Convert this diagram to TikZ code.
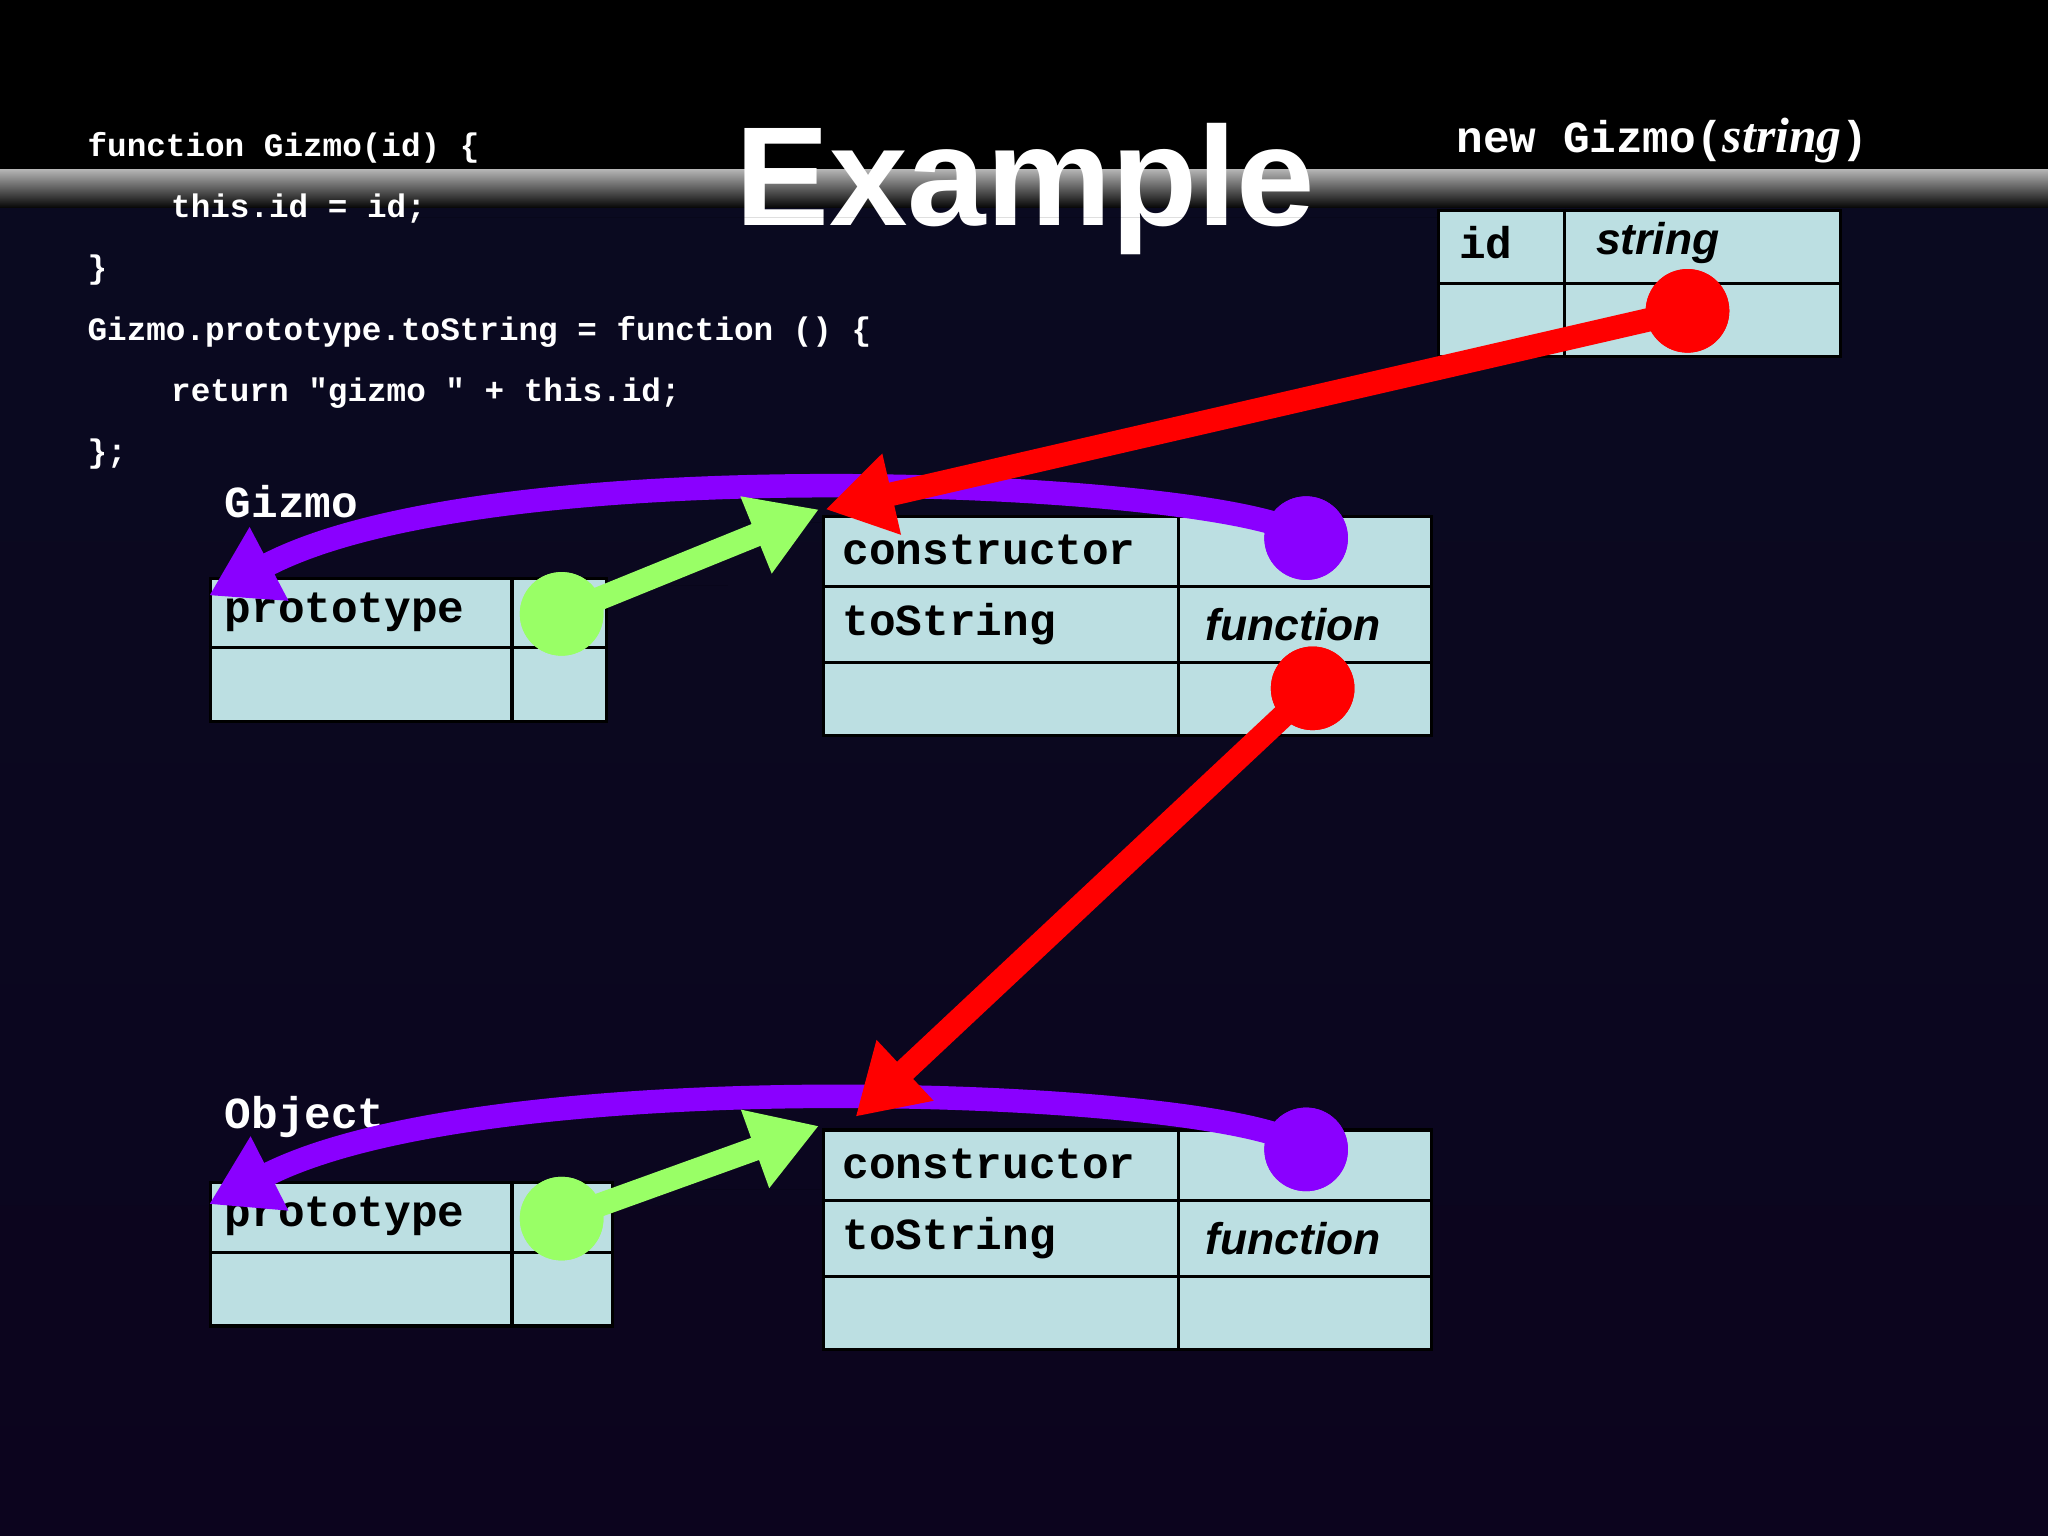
\documentclass[tikz,border=0pt]{standalone}
\usepackage{fontspec}
\setmainfont{Liberation Sans}
\setmonofont{Liberation Mono}
\newfontfamily\serifit{Liberation Serif}
\usetikzlibrary{arrows.meta}
\definecolor{cellc}{HTML}{BCDFE2}
\definecolor{redc}{HTML}{FF0000}
\definecolor{purc}{HTML}{8A00FF}
\definecolor{grnc}{HTML}{99FF66}
\tikzset{
 tbl/.style={draw=black,line width=1.2pt,fill=cellc,anchor=north west,inner sep=0pt},
 cell/.style={font=\ttfamily\bfseries\fontsize{17}{17}\selectfont,anchor=west,text=black},
 fn/.style={font=\bfseries\itshape\fontsize{17}{17}\selectfont,anchor=west,text=black},
 code/.style={font=\ttfamily\bfseries\fontsize{12.5}{12.5}\selectfont,anchor=west,text=white},
 lbl/.style={font=\ttfamily\bfseries\fontsize{17}{17}\selectfont,anchor=west,text=white},
 dot/.style={circle,minimum size=32pt,inner sep=0pt},
 thick arrow/.style={line width=9pt,-{Triangle[length=26pt,width=30pt]}},
}
\begin{document}
\begin{tikzpicture}[x=0.5pt,y=-0.5pt]
\shade[top color=black,bottom color=black] (0,0) rectangle (1568,160);
\shade[top color=black!100!blue!30,bottom color=black] (0,130) rectangle (1568,160);
\shade[top color={rgb,255:red,10;green,10;blue,32},bottom color={rgb,255:red,12;green,4;blue,30}] (0,160) rectangle (1568,1176);
\useasboundingbox (0,0) rectangle (1568,1176);
% code
\node[code] (c1) at (60,113) {function Gizmo(id) \{};
\node[code] (c2) at (124,160) {this.id = id;};
\node[code] (c3) at (60,207) {\}};
\node[code] (c4) at (60,254) {Gizmo.prototype.toString = function () \{};
\node[code] (c5) at (124,301) {return "gizmo " + this.id;};
\node[code] (c6) at (60,348) {\};};
\node[font=\bfseries\fontsize{54}{54}\selectfont,text=white] (title) at (785,145) {Example};
\node[anchor=west,text=white] (newg) at (1108,108) {\ttfamily\bfseries\fontsize{17}{17}\selectfont new Gizmo(\serifit\itshape\fontsize{19}{19}\selectfont string\ttfamily\upshape\bfseries\fontsize{17}{17}\selectfont)};
% shadows
\foreach \a/\b/\c/\d in {1100/160/1408/272,160/442/463/551,629/394/1095/562,160/904/468/1014,629/864/1095/1032}
  \fill[black] (\a+6,\b+6) rectangle (\d+6,\c*0+\d*0+\b+6+\c-\a*0-\c);
% tables
\node[tbl,minimum width=154pt,minimum height=56pt] (t1) at (1100,160) {};
\draw[line width=1.2pt] (1198,160)--(1198,272) (1100,217)--(1408,217);
\node[cell] at (1110,186) {id};
\node[fn] at (1215,186) {string};
\node[tbl,minimum width=151.5pt,minimum height=54.5pt] (t2) at (160,442) {};
\draw[line width=1.2pt] (392,442)--(392,551) (160,496)--(463,496);
\node[cell] at (165,469) {prototype};
\node[tbl,minimum width=233pt,minimum height=84pt] (t3) at (629,394) {};
\draw[line width=1.2pt] (902,394)--(902,562) (629,449)--(1095,449) (629,507)--(1095,507);
\node[cell] at (638,421) {constructor};
\node[cell] at (638,478) {toString};
\node[fn] at (916,478) {function};
\node[tbl,minimum width=154pt,minimum height=55pt] (t4) at (160,904) {};
\draw[line width=1.2pt] (392,904)--(392,1014) (160,959)--(468,959);
\node[cell] at (165,931) {prototype};
\node[tbl,minimum width=233pt,minimum height=84pt] (t5) at (629,864) {};
\draw[line width=1.2pt] (902,864)--(902,1032) (629,919)--(1095,919) (629,977)--(1095,977);
\node[cell] at (638,891) {constructor};
\node[cell] at (638,948) {toString};
\node[fn] at (916,948) {function};
\node[lbl] (lg) at (165,384) {Gizmo};
\node[lbl] (lo) at (165,855) {Object};
% dots
\node[dot,fill=redc] (r1) at (1292,238) {};
\node[dot,fill=redc] (r2) at (1005,527) {};
\node[dot,fill=purc] (p1) at (1000,412) {};
\node[dot,fill=purc] (p2) at (1000,880) {};
\node[dot,fill=grnc] (g1) at (430,470) {};
\node[dot,fill=grnc] (g2) at (430,933) {};
\coordinate (pe1) at (160,456);
\coordinate (pe2) at (160,922);
\coordinate (ge1) at (627,390);
\coordinate (ge2) at (627,862);
\coordinate (re1) at (632,390);
\coordinate (re2) at (655,855);
% arrows
\draw[thick arrow,purc] (p1.center) .. controls (960,370) and (380,340) .. (pe1);
\draw[thick arrow,purc] (p2.center) .. controls (960,835) and (380,810) .. (pe2);
\draw[thick arrow,grnc] (g1.center) -- (ge1);
\draw[thick arrow,grnc] (g2.center) -- (ge2);
\draw[thick arrow,redc] (r1.center) -- (re1);
\draw[thick arrow,redc] (r2.center) -- (re2);
\node[dot,fill=redc] at (r1) {};
\node[dot,fill=redc] at (r2) {};
\node[dot,fill=purc] at (p1) {};
\node[dot,fill=purc] at (p2) {};
\node[dot,fill=grnc] at (g1) {};
\node[dot,fill=grnc] at (g2) {};
\end{tikzpicture}
\end{document}
